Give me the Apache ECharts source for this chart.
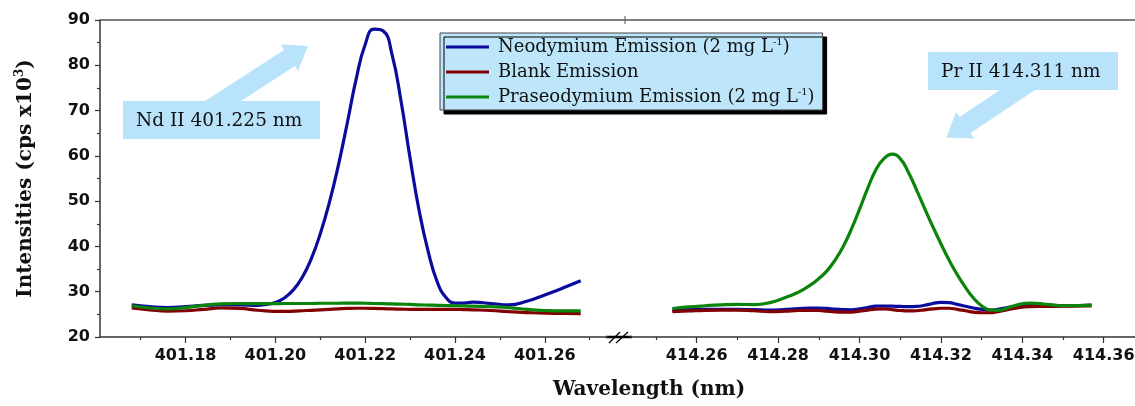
<!DOCTYPE html>
<html>
<head>
<meta charset="utf-8">
<script src="https://cdn.jsdelivr.net/npm/echarts@6/dist/echarts.min.js"></script>
<style>
  html, body { margin: 0; padding: 0; background: #fff; }
  #chart { width: 1135px; height: 406px; }
</style>
</head>
<body>
<div id="chart"></div>
<script>
// left panel: Nd II region
let ndX = [401.168, 401.172, 401.176, 401.180, 401.184, 401.188, 401.192, 401.196, 401.198, 401.200,
  401.202, 401.204, 401.206, 401.208, 401.210, 401.212, 401.214, 401.216, 401.218, 401.220,
  401.222, 401.224, 401.226, 401.228, 401.230, 401.232, 401.234, 401.236, 401.238, 401.240,
  401.242, 401.244, 401.248, 401.252, 401.256, 401.260, 401.264, 401.268];
let ndNeo = [27.1, 26.7, 26.5, 26.7, 27.0, 27.1, 27.1, 27.0, 27.2, 27.6,
  28.6, 30.4, 33.2, 37.3, 42.8, 49.6, 57.8, 67.2, 77.0, 84.6,
  88.0, 87.6, 82.3, 72.0, 59.5, 48.0, 39.0, 32.3, 28.7, 27.5,
  27.5, 27.7, 27.4, 27.1, 27.9, 29.3, 30.8, 32.4];
let ndBlank = [26.45, 26.0, 25.7, 25.8, 26.1, 26.4, 26.3, 25.9, 25.75, 25.65,
  25.65, 25.7, 25.8, 25.9, 26.0, 26.1, 26.2, 26.3, 26.35, 26.35,
  26.3, 26.25, 26.2, 26.15, 26.1, 26.1, 26.1, 26.1, 26.1, 26.1,
  26.05, 26.0, 25.85, 25.6, 25.4, 25.25, 25.2, 25.15];
let ndPra = [26.9, 26.4, 26.2, 26.5, 27.0, 27.3, 27.4, 27.35, 27.35, 27.35,
  27.4, 27.4, 27.4, 27.4, 27.45, 27.45, 27.45, 27.5, 27.5, 27.45,
  27.4, 27.35, 27.3, 27.25, 27.2, 27.1, 27.05, 27.0, 26.95, 26.9,
  26.85, 26.8, 26.7, 26.5, 26.1, 25.85, 25.75, 25.75];

// right panel: Pr II region
let prX = [414.254, 414.258, 414.262, 414.266, 414.270, 414.274, 414.278, 414.282, 414.284, 414.286,
  414.288, 414.290, 414.292, 414.294, 414.296, 414.298, 414.300, 414.302, 414.304, 414.306,
  414.308, 414.310, 414.312, 414.314, 414.316, 414.318, 414.320, 414.322, 414.324, 414.326,
  414.328, 414.330, 414.332, 414.334, 414.338, 414.342, 414.346, 414.350, 414.354, 414.357];
let prNeo = [25.95, 26.05, 26.1, 26.1, 26.1, 26.05, 25.95, 26.1, 26.2, 26.35,
  26.4, 26.4, 26.3, 26.15, 26.05, 26.0, 26.2, 26.5, 26.8, 26.85,
  26.8, 26.75, 26.7, 26.75, 27.0, 27.4, 27.65, 27.6, 27.2, 26.8,
  26.4, 26.1, 25.95, 26.1, 26.8, 27.3, 27.1, 26.9, 26.95, 27.05];
let prBlank = [25.6, 25.75, 25.9, 25.95, 25.95, 25.8, 25.6, 25.7, 25.8, 25.9,
  25.9, 25.85, 25.7, 25.55, 25.5, 25.5, 25.7, 25.95, 26.15, 26.2,
  26.05, 25.85, 25.75, 25.8, 26.0, 26.2, 26.35, 26.35, 26.1, 25.8,
  25.5, 25.35, 25.35, 25.6, 26.3, 26.7, 26.75, 26.8, 26.85, 26.85];
let prPra = [26.3, 26.65, 26.9, 27.1, 27.2, 27.15, 27.6, 28.8, 29.5, 30.4,
  31.5, 32.9, 34.6, 37.0, 40.0, 43.8, 48.2, 52.8, 56.9, 59.4,
  60.4, 59.4, 56.4, 52.5, 48.4, 44.4, 40.6, 37.0, 33.8, 31.0,
  28.6, 26.9, 26.0, 25.9, 26.9, 27.5, 27.2, 26.9, 26.95, 27.05];

let leftTickLabels = ['401.18', '401.20', '401.22', '401.24', '401.26'];
let leftMinorTicks = [401.17, 401.19, 401.21, 401.23, 401.25, 401.27];
let rightTickLabels = ['414.26', '414.28', '414.30', '414.32', '414.34', '414.36'];
let rightMinorTicks = [414.25, 414.27, 414.29, 414.31, 414.33, 414.35];

let names = ['Neodymium Emission', 'Blank Emission', 'Praseodymium Emission'];
let colors = ['#0b0b9e', '#820000', '#0a840a'];

let labelFont = { fontFamily: 'DejaVu Sans', fontWeight: 'bold', fontSize: 16, color: '#111' };
let axisLineStyle = { color: '#333', width: 1.5 };

function pairs(xs, ys) {
  return xs.map(function (x, i) { return [x, ys[i]]; });
}

function majorAxis(grid, min, max, labels) {
  let vals = labels.map(Number);
  return {
    type: 'value', gridIndex: grid, min: min, max: max, position: 'bottom',
    axisLine: { show: true, onZero: false, lineStyle: axisLineStyle },
    axisTick: { show: true, length: 6, customValues: vals, lineStyle: { color: '#333', width: 1.2 } },
    axisLabel: Object.assign({ customValues: vals, margin: 11, formatter: function (v) { return v.toFixed(2); } }, labelFont),
    splitLine: { show: false }
  };
}

function minorAxis(grid, min, max, ticks) {
  return {
    type: 'value', gridIndex: grid, min: min, max: max, position: 'bottom',
    axisLine: { show: false },
    axisTick: { show: true, length: 3, customValues: ticks, lineStyle: { color: '#333', width: 1.2 } },
    axisLabel: { show: false },
    splitLine: { show: false }
  };
}

function lineSeries(name, xi, yi, color, data, z) {
  return {
    name: name, type: 'line', xAxisIndex: xi, yAxisIndex: yi,
    data: data, smooth: 0.5, symbol: 'none', showSymbol: false, z: z,
    lineStyle: { color: color, width: 3.2 },
    itemStyle: { color: color }
  };
}

let option = {
  animation: false,
  backgroundColor: '#fff',
  grid: [
    { left: 100, top: 20, width: 508, height: 317, outerBoundsMode: 'none' },
    { left: 630, top: 20, width: 505, height: 317, outerBoundsMode: 'none' }
  ],
  legend: {
    data: names,
    orient: 'vertical',
    left: 440,
    top: 33,
    padding: [4, 8, 3, 6],
    icon: 'rect',
    itemWidth: 43,
    itemHeight: 3,
    itemGap: 5,
    backgroundColor: '#bde6fa',
    borderColor: '#444',
    borderWidth: 1,
    shadowColor: '#000',
    shadowBlur: 0,
    shadowOffsetX: 4,
    shadowOffsetY: 4,
    formatter: function (name) {
      return name === 'Blank Emission' ? name : name + ' (2 mg L{sup|-1})';
    },
    textStyle: {
      fontFamily: 'DejaVu Serif', fontSize: 18, color: '#111', lineHeight: 20,
      padding: [0, 0, 0, 4],
      rich: { sup: { fontFamily: 'DejaVu Serif', fontSize: 10, verticalAlign: 'top', lineHeight: 20, color: '#111' } }
    }
  },
  xAxis: [
    majorAxis(0, 401.16094, 401.27408, leftTickLabels),
    minorAxis(0, 401.16094, 401.27408, leftMinorTicks),
    majorAxis(1, 414.2436, 414.3677, rightTickLabels),
    minorAxis(1, 414.2436, 414.3677, rightMinorTicks)
  ],
  yAxis: [
    {
      type: 'value', gridIndex: 0, min: 20, max: 90, interval: 10,
      name: 'Intensities (cps x10{sup|3})',
      nameLocation: 'middle',
      nameGap: 62,
      nameTextStyle: {
        fontFamily: 'DejaVu Serif', fontWeight: 'bold', fontSize: 20, color: '#111', lineHeight: 24,
        rich: { sup: { fontFamily: 'DejaVu Serif', fontWeight: 'bold', fontSize: 12, verticalAlign: 'top', lineHeight: 24, color: '#111' } }
      },
      axisLine: { show: true, lineStyle: axisLineStyle },
      axisTick: { show: true, length: 5, lineStyle: { color: '#333', width: 1.2 } },
      minorTick: { show: true, splitNumber: 2, length: 3, lineStyle: { color: '#333', width: 1.2 } },
      axisLabel: Object.assign({ margin: 10 }, labelFont),
      splitLine: { show: false }
    },
    { type: 'value', gridIndex: 1, min: 20, max: 90, interval: 10, show: false, splitLine: { show: false } }
  ],
  series: [
    lineSeries(names[0], 0, 0, colors[0], pairs(ndX, ndNeo), 2),
    lineSeries(names[1], 0, 0, colors[1], pairs(ndX, ndBlank), 3),
    lineSeries(names[2], 0, 0, colors[2], pairs(ndX, ndPra), 4),
    lineSeries(names[0], 2, 1, colors[0], pairs(prX, prNeo), 2),
    lineSeries(names[1], 2, 1, colors[1], pairs(prX, prBlank), 3),
    lineSeries(names[2], 2, 1, colors[2], pairs(prX, prPra), 4)
  ],
  graphic: [
    // top frame line and axis break marks
    { type: 'line', shape: { x1: 100, y1: 20, x2: 1135, y2: 20 }, style: { stroke: '#555', lineWidth: 1.5 } },
    { type: 'line', shape: { x1: 625, y1: 16, x2: 625, y2: 24 }, style: { stroke: '#555', lineWidth: 1 } },
    { type: 'line', shape: { x1: 606, y1: 337, x2: 632, y2: 337 }, style: { stroke: '#000', lineWidth: 2.5 } },
    { type: 'line', shape: { x1: 609, y1: 343, x2: 620, y2: 332 }, style: { stroke: '#000', lineWidth: 1.3 } },
    { type: 'line', shape: { x1: 616, y1: 343, x2: 628, y2: 332 }, style: { stroke: '#000', lineWidth: 1.3 } },
    // annotations
    {
      type: 'polygon', z: 1,
      shape: { points: [[205, 101], [284, 50], [281, 44.5], [308, 46], [298, 71], [295, 66], [241, 101]] },
      style: { fill: '#b8e3fa' }
    },
    { type: 'rect', shape: { x: 123, y: 101, width: 197, height: 38 }, style: { fill: '#b8e3fa' }, z: 1 },
    {
      type: 'text', x: 136, y: 121, z: 2,
      style: { text: 'Nd II 401.225 nm', fontFamily: 'DejaVu Serif', fontSize: 18.5, fill: '#111', verticalAlign: 'middle' }
    },
    {
      type: 'polygon', z: 1,
      shape: { points: [[1000, 90], [1035, 90], [970.5, 133], [974, 138.5], [946.5, 137.5], [956, 112], [959.5, 117]] },
      style: { fill: '#b8e3fa' }
    },
    { type: 'rect', shape: { x: 928, y: 52, width: 190, height: 38 }, style: { fill: '#b8e3fa' }, z: 1 },
    {
      type: 'text', x: 941, y: 72, z: 2,
      style: { text: 'Pr II 414.311 nm', fontFamily: 'DejaVu Serif', fontSize: 18.5, fill: '#111', verticalAlign: 'middle' }
    },
    {
      type: 'text', x: 649, y: 390,
      style: { text: 'Wavelength (nm)', fontFamily: 'DejaVu Serif', fontWeight: 'bold', fontSize: 20, fill: '#111', align: 'center', verticalAlign: 'middle' }
    }
  ]
};

let myChart = echarts.init(document.getElementById('chart'));
myChart.setOption(option);
</script>
</body>
</html>
